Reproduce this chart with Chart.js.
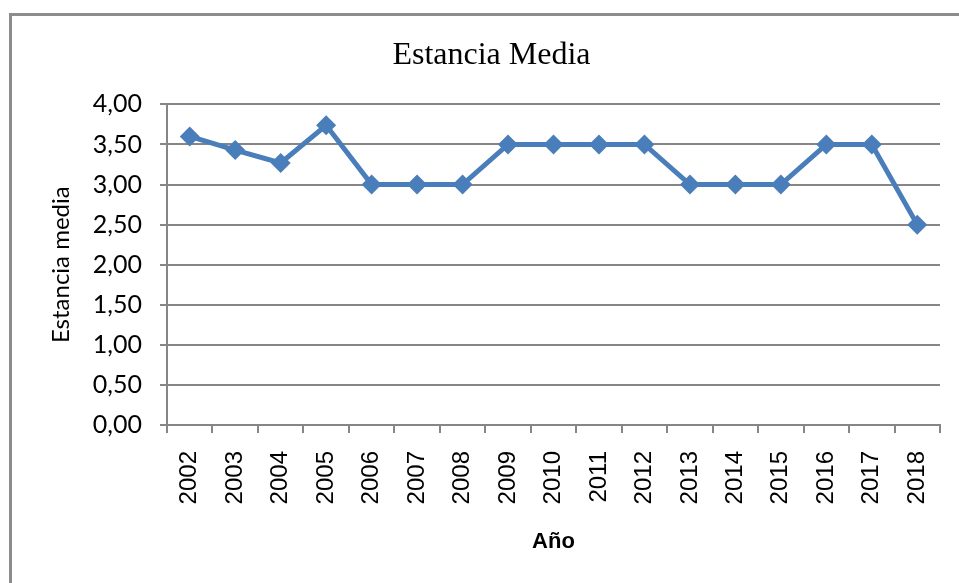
<!DOCTYPE html>
<html>
<head>
<meta charset="utf-8">
<script src="https://cdn.jsdelivr.net/npm/chart.js@4"></script>
<style>
  html, body { margin: 0; padding: 0; background: #fff; }
  #wrap { position: relative; width: 959px; height: 583px; overflow: hidden; }
  #frame {
    position: absolute; left: 9px; top: 13px; width: 1000px; height: 600px;
    border-left: 3px solid #8c8c8c; border-top: 3px solid #8c8c8c;
  }
  canvas { position: absolute; left: 0; top: 0; }
</style>
</head>
<body>
<div id="wrap">
  <div id="frame"></div>
  <canvas id="chart" width="959" height="583"></canvas>
</div>
<script>
// Chart data
const years = ['2002', '2003', '2004', '2005', '2006', '2007', '2008', '2009', '2010',
               '2011', '2012', '2013', '2014', '2015', '2016', '2017', '2018'];
const estanciaMedia = [3.60, 3.43, 3.27, 3.74, 3.00, 3.00, 3.00, 3.50, 3.50,
                       3.50, 3.50, 3.00, 3.00, 3.00, 3.50, 3.50, 2.50];
const yTicks = [0, 0.5, 1, 1.5, 2, 2.5, 3, 3.5, 4];

const lineBlue = '#4a7ebb';
const gridGray = '#868686';

new Chart(document.getElementById('chart').getContext('2d'), {
    type: 'line',
    data: {
        labels: years,
        datasets: [{
            label: 'Estancia media',
            data: estanciaMedia,
            borderColor: lineBlue,
            backgroundColor: lineBlue,
            borderWidth: 5,
            pointStyle: 'rectRot',
            pointRadius: 10,
            pointBorderWidth: 0,
            tension: 0
        }]
    },
    options: {
        responsive: false,
        animation: false,
        layout: { padding: { top: 20, left: 43, right: 19, bottom: 0 } },
        plugins: {
            legend: { display: false },
            tooltip: { enabled: false },
            title: {
                display: true,
                text: 'Estancia Media',
                color: '#000',
                font: { family: '"Liberation Serif", "Times New Roman", serif', size: 32, weight: 'normal' },
                padding: { top: 16, bottom: 30 }
            }
        },
        scales: {
            x: {
                offset: true,
                afterFit: (scale) => {
                    scale.height = 158;
                    // keep the plot edge where the reference puts it
                    scale.paddingLeft = 0;
                    scale.paddingRight = 0;
                },
                grid: {
                    offset: true,
                    drawOnChartArea: false,
                    drawTicks: true,
                    tickLength: 8,
                    color: gridGray,
                    lineWidth: 2
                },
                border: { display: true, color: gridGray, width: 2 },
                ticks: {
                    minRotation: 90,
                    maxRotation: 90,
                    padding: 18,
                    color: '#000',
                    font: { family: '"Liberation Sans", Arial, sans-serif', size: 24 }
                },
                title: {
                    display: true,
                    text: 'Año',
                    color: '#000',
                    font: { family: '"Liberation Sans", Arial, sans-serif', size: 22, weight: 'bold' },
                    padding: { top: 4, bottom: 28 }
                }
            },
            y: {
                min: 0,
                max: 4,
                afterFit: (scale) => { scale.width = 124; },
                afterBuildTicks: (scale) => { scale.ticks = yTicks.map(v => ({ value: v })); },
                grid: {
                    color: gridGray,
                    lineWidth: 2,
                    drawTicks: true,
                    tickLength: 7
                },
                border: { display: true, color: gridGray, width: 2 },
                ticks: {
                    padding: 18,
                    color: '#000',
                    font: { family: 'Lato, "Open Sans", sans-serif', size: 25 },
                    callback: (v) => Number(v).toFixed(2).replace('.', ',')
                },
                title: {
                    display: true,
                    text: 'Estancia media',
                    color: '#000',
                    font: { family: 'Lato, "Open Sans", sans-serif', size: 24 },
                    padding: { top: 4, bottom: 4 }
                }
            }
        }
    }
});
</script>
</body>
</html>
